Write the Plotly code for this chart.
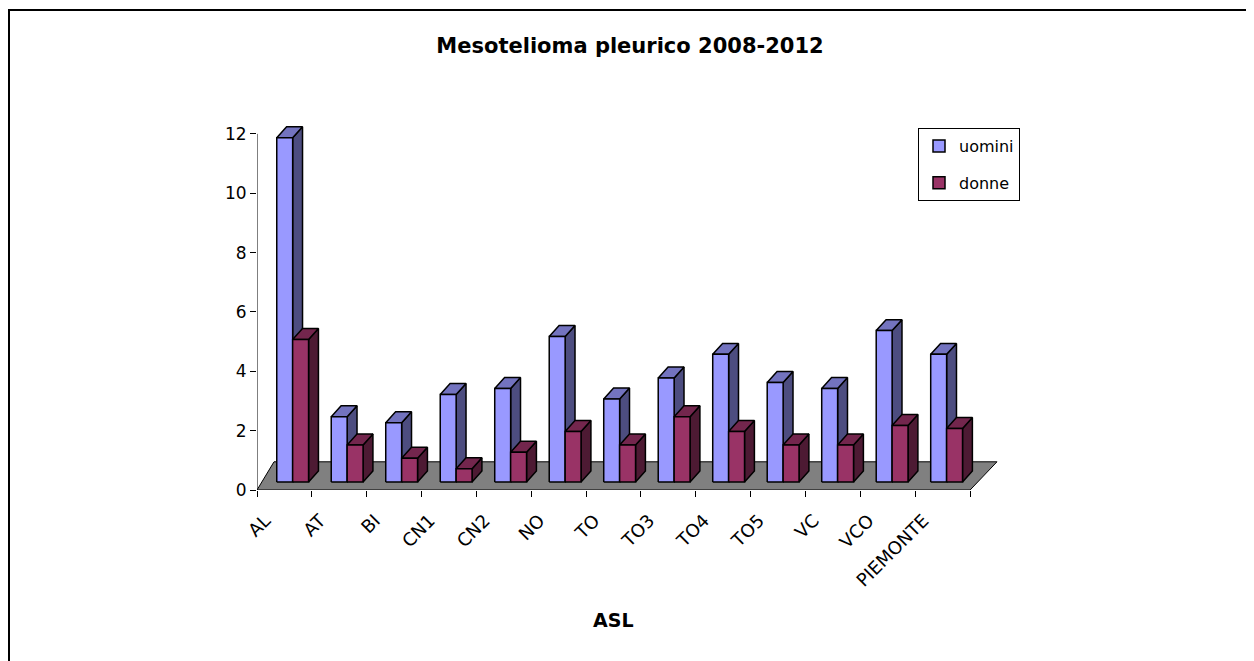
import plotly.graph_objects as go

# ---- data ----
categories = ["AL", "AT", "BI", "CN1", "CN2", "NO", "TO", "TO3", "TO4", "TO5", "VC", "VCO", "PIEMONTE"]
uomini = [11.6, 2.2, 2.0, 2.95, 3.15, 4.9, 2.8, 3.5, 4.3, 3.35, 3.15, 5.1, 4.3]
donne = [4.8, 1.25, 0.8, 0.45, 1.0, 1.7, 1.25, 2.2, 1.7, 1.25, 1.25, 1.9, 1.8]
series_names = ["uomini", "donne"]
y_ticks = [0, 2, 4, 6, 8, 10, 12]

# ---- style ----
# the page body adds an 8px margin, so the figure is laid out 8px smaller
W, H = 1246, 653
L_PX, R_PX, T_PX, B_PX = 249, 995, 111, 482
X_RANGE = [0, 13.6]
Y_RANGE = [0, 12.5]
colors = {
    "uomini": {"front": "#9999FF", "top": "#7373BF", "side": "#4D4D80"},
    "donne": {"front": "#993366", "top": "#73264D", "side": "#4D1A33"},
}
FONT = "DejaVu Sans, Arial, sans-serif"
BAR_W = 0.29       # width of each bar face (category units)
BASE = 0.27        # bars stand at mid-depth of the floor
DX, DY = 0.18, 0.37  # depth projection of a bar
FLOOR_DY = 0.95
FLOOR_DXL, FLOOR_DXR = 0.31, 0.49
OUTLINE = dict(color="black", width=1.5)

n = len(categories)
fig = go.Figure()

# floor
fig.add_trace(go.Scatter(
    x=[0, n, n + FLOOR_DXR, FLOOR_DXL, 0],
    y=[0, 0, FLOOR_DY, FLOOR_DY, 0],
    mode="lines", fill="toself", fillcolor="#808080",
    line=dict(color="black", width=1), showlegend=False, hoverinfo="skip",
))

def faces(values, s):
    fx, fy, sx, sy, tx, ty = [], [], [], [], [], []
    for i, v in enumerate(values):
        xl = i + (0.36 - 0.0065 * i) + s * BAR_W
        xr = xl + BAR_W
        b, t = BASE, BASE + v
        fx += [xl, xr, xr, xl, xl, None]
        fy += [b, b, t, t, b, None]
        sx += [xr, xr + DX, xr + DX, xr, xr, None]
        sy += [b, b + DY, t + DY, t, b, None]
        tx += [xl, xr, xr + DX, xl + DX, xl, None]
        ty += [t, t, t + DY, t + DY, t, None]
    return (fx, fy), (sx, sy), (tx, ty)

for s, (name, vals) in enumerate(zip(series_names, [uomini, donne])):
    (fx, fy), (sx, sy), (tx, ty) = faces(vals, s)
    c = colors[name]
    fig.add_trace(go.Scatter(x=sx, y=sy, mode="lines", fill="toself", fillcolor=c["side"],
                             line=OUTLINE, showlegend=False, hoverinfo="skip"))
    fig.add_trace(go.Scatter(x=tx, y=ty, mode="lines", fill="toself", fillcolor=c["top"],
                             line=OUTLINE, showlegend=False, hoverinfo="skip"))
    fig.add_trace(go.Scatter(x=fx, y=fy, mode="lines", fill="toself", fillcolor=c["front"],
                             line=OUTLINE, showlegend=False, hoverinfo="skip"))

# legend entries (square swatches)
for name in series_names:
    fig.add_trace(go.Bar(x=[None], y=[None], name=name, legendgroup=name,
                         marker=dict(color=colors[name]["front"], line=dict(color="black", width=1.5))))

pw = R_PX - L_PX
ph = B_PX - T_PX

fig.update_layout(
    width=W, height=H,
    margin=dict(l=L_PX, r=W - R_PX, t=T_PX, b=H - B_PX, autoexpand=False),
    paper_bgcolor="white", plot_bgcolor="white",
    font=dict(family=FONT, color="black", size=17),
    title=dict(text="<b>Mesotelioma pleurico 2008-2012</b>", x=622 / W, xref="container",
               xanchor="center", y=1 - 38 / H, yref="container", yanchor="middle",
               font=dict(size=21, family=FONT, color="black")),
    showlegend=True,
    legend=dict(x=910 / W, y=1 - 120 / H, xref="container", yref="container",
                xanchor="left", yanchor="top", bordercolor="black", borderwidth=1,
                bgcolor="white", font=dict(size=16, family=FONT), tracegroupgap=13,
                itemwidth=30, traceorder="grouped"),
    xaxis=dict(range=X_RANGE, showgrid=False, zeroline=False, showline=False,
               tickvals=[i + 0.15 for i in range(n)], ticktext=categories,
               ticks="outside", ticklen=12, tickcolor="rgba(0,0,0,0)", tickangle=-45,
               tickfont=dict(size=18, family=FONT),
               minor=dict(tickvals=list(range(n + 1)), ticks="outside", ticklen=6,
                          tickcolor="black", tickwidth=1, showgrid=False)),
    yaxis=dict(range=Y_RANGE, showgrid=False, zeroline=False, showline=False,
               tickvals=y_ticks, ticks="outside", ticklen=6, tickcolor="black",
               tickfont=dict(size=17, family=FONT)),
    shapes=[
        dict(type="line", xref="x", yref="y", x0=0, x1=0, y0=0, y1=max(y_ticks),
             line=dict(color="black", width=1)),
        dict(type="rect", xref="paper", yref="paper",
             x0=(1 - L_PX) / pw, x1=(W + 20 - L_PX) / pw,
             y0=(B_PX - (H + 20)) / ph, y1=(B_PX - 2) / ph,
             line=dict(color="black", width=2), fillcolor="rgba(0,0,0,0)", layer="below"),
    ],
    annotations=[
        dict(text="<b>ASL</b>", x=6.5, xref="x", y=(B_PX - 612) / ph, yref="paper",
             showarrow=False, font=dict(size=19, family=FONT), xanchor="center", yanchor="middle"),
    ],
)

fig.write_html("out.html")
